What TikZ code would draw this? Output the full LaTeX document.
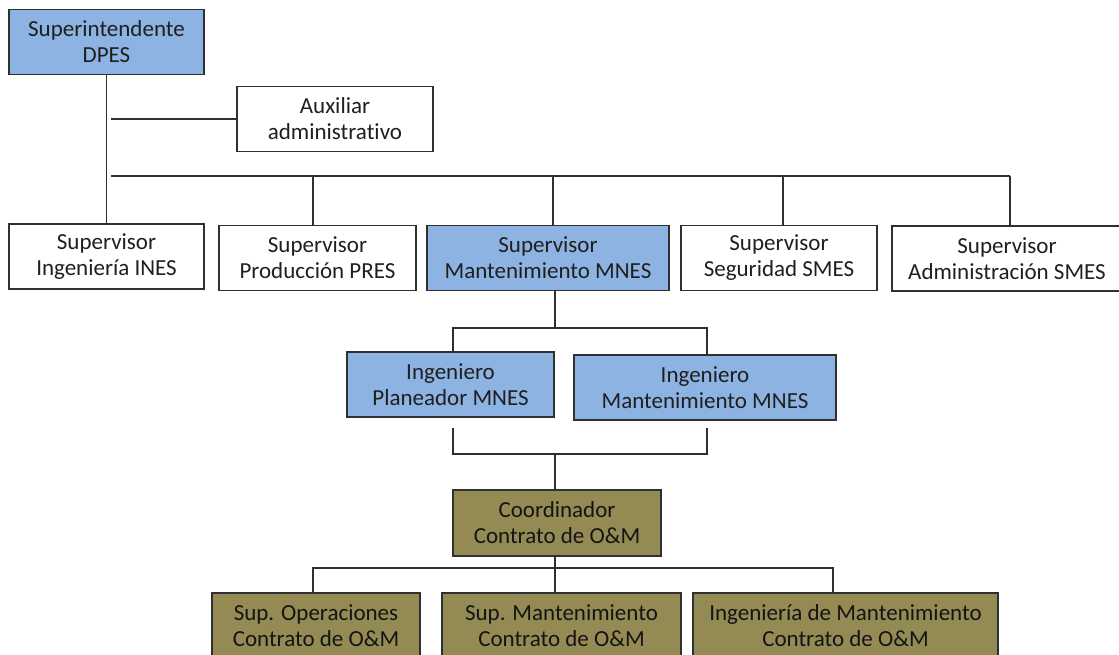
\documentclass[tikz,border=0pt]{standalone}
\usepackage{fontspec}
\setmainfont{Carlito}[Ligatures=NoCommon]
\definecolor{bluebox}{HTML}{8DB3E2}
\definecolor{olivebox}{HTML}{948A54}
\definecolor{edge}{HTML}{303030}
\begin{document}
\begin{tikzpicture}[x=1pt,y=-1pt]
\tikzstyle{every node}+=[inner sep=0pt]
\tikzstyle{box}=[draw=edge, line width=1.3pt, minimum height=65pt, align=center, text=black!88, font=\fontsize{23}{26}\selectfont]
\tikzstyle{blue box}=[box, fill=bluebox]
\tikzstyle{olive box}=[box, fill=olivebox, text=black!92]
\tikzstyle{link}=[edge, line width=1.2pt]
\useasboundingbox (0,0) rectangle (1119,654);
\node [blue box, minimum width=195pt] (dpes) at (106.5,42) {Superintendente\\DPES};
\node [box, minimum width=196pt] (aux) at (335,119) {Auxiliar\\administrativo};
\node [box, minimum width=195pt] (ines) at (106.5,256.5) {Supervisor\\Ingeniería INES};
\node [box, minimum width=197pt] (pres) at (317.5,258) {Supervisor\\Producción PRES};
\node [blue box, minimum width=242pt] (mnes) at (548,258) {Supervisor\\Mantenimiento MNES};
\node [box, minimum width=196pt] (smes) at (779,258) {Supervisor\\Seguridad SMES};
\node [box, minimum width=230pt] (asmes) at (1007,258.5) {Supervisor\\Administración SMES};
\node [blue box, minimum width=207pt] (plan) at (450.5,384.5) {Ingeniero\\Planeador MNES};
\node [blue box, minimum width=262pt] (mant) at (705,387.5) {Ingeniero\\Mantenimiento MNES};
\node [olive box, minimum width=208pt, minimum height=66pt] (coord) at (557,523) {Coordinador\\Contrato de O\&M};
\node [olive box, minimum width=208pt, minimum height=66pt] (ops) at (316,626) {Sup. Operaciones\\Contrato de O\&M};
\node [olive box, minimum width=239pt, minimum height=66pt] (smant) at (561.5,626) {Sup. Mantenimiento\\Contrato de O\&M};
\node [olive box, minimum width=305pt, minimum height=66pt] (ingm) at (845.5,626) {Ingeniería de Mantenimiento\\Contrato de O\&M};
\coordinate (bus) at (111,176);
\coordinate (b1) at (313,176);
\coordinate (b2) at (553,176);
\coordinate (b3) at (783,176);
\coordinate (b4) at (1010,176);
\coordinate (m0) at (555,328);
\coordinate (m1) at (453,328);
\coordinate (m2) at (707,328);
\coordinate (n1) at (453,428);
\coordinate (n2) at (707,428);
\coordinate (n0) at (555,454);
\coordinate (c1) at (313,568);
\coordinate (c2) at (833,568);
\draw [link] (dpes.south) -- (dpes.south |- ines.north);
\draw [link] (aux.west) -- (aux.west -| bus);
\draw [link] (bus) -- (b4);
\draw [link] (b1) -- (b1 |- pres.north);
\draw [link] (b2) -- (b2 |- mnes.north);
\draw [link] (b3) -- (b3 |- smes.north);
\draw [link] (b4) -- (b4 |- asmes.north);
\draw [link] (m0 |- mnes.south) -- (m0);
\draw [link] (m1 |- plan.north) -- (m1) -- (m2) -- (m2 |- mant.north);
\draw [link] (n1) -- (n1 |- n0) -- (n2 |- n0) -- (n2);
\draw [link] (n0) -- (n0 |- coord.north);
\draw [link] (n0 |- coord.south) -- (n0 |- smant.north);
\draw [link] (c1 |- ops.north) -- (c1) -- (c2) -- (c2 |- ingm.north);
\end{tikzpicture}
\end{document}
